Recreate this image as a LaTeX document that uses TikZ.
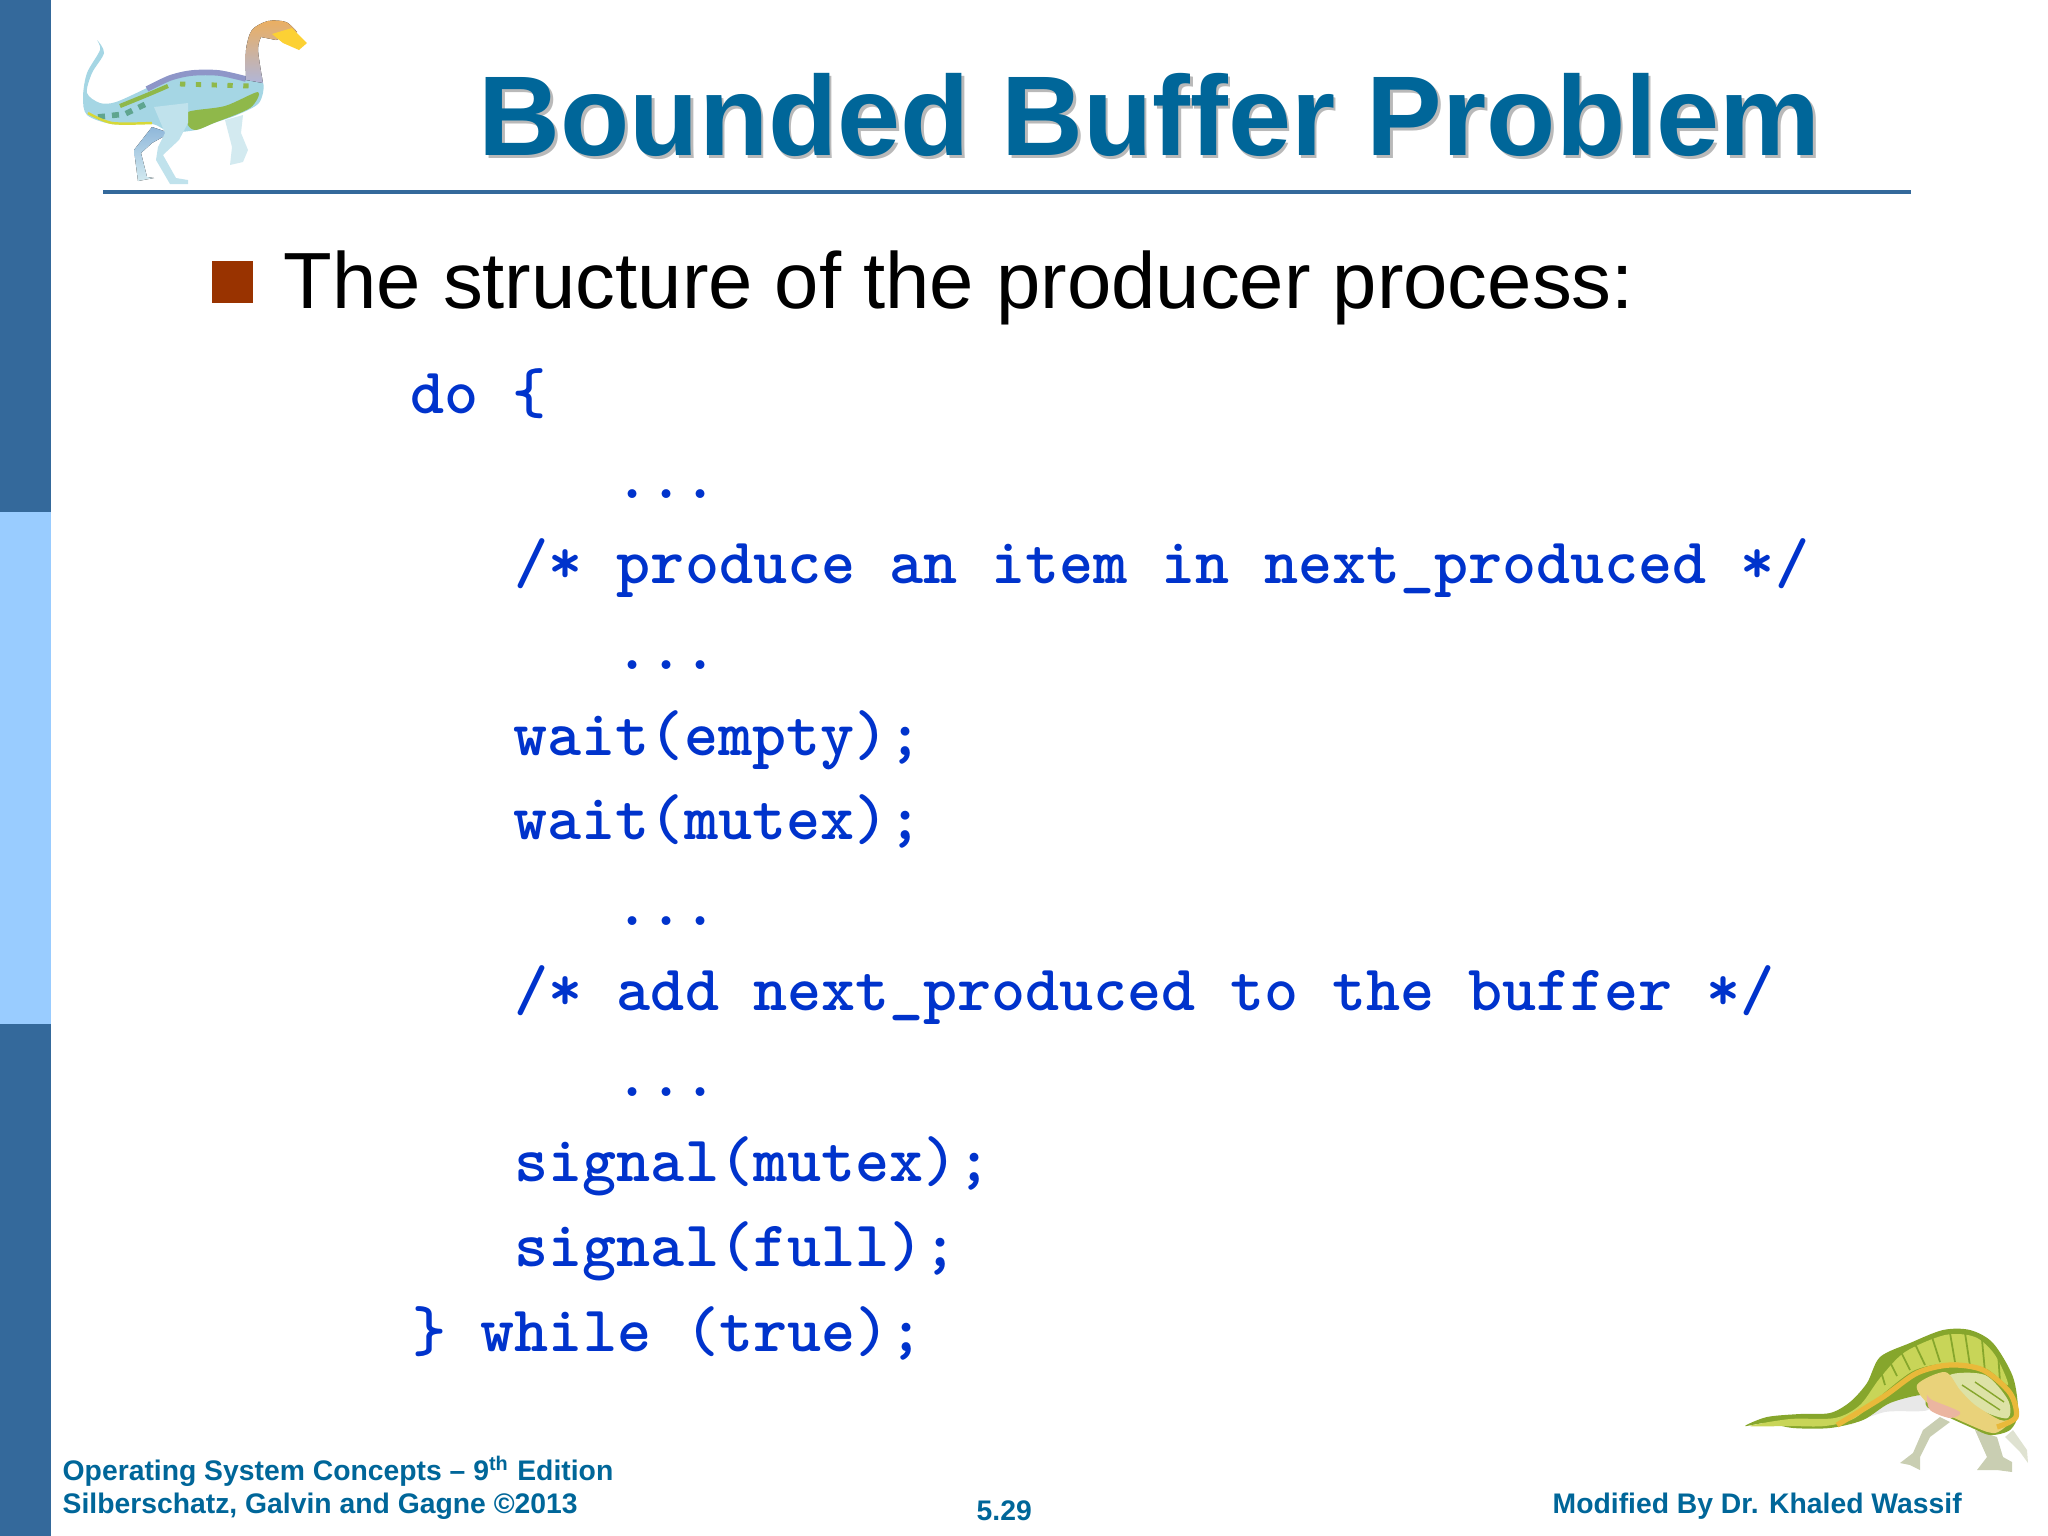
\documentclass[tikz,border=0pt]{standalone}
\usepackage{fontspec}
\setmainfont{Liberation Sans}
\usetikzlibrary{positioning}
\definecolor{barblue}{HTML}{34699B}
\definecolor{barlight}{HTML}{99CCFF}
\definecolor{titleblue}{HTML}{006699}
\definecolor{codeblue}{HTML}{0033CC}
\definecolor{bulletred}{HTML}{993300}
\definecolor{dinoblue}{HTML}{A5D6E4}
\definecolor{dinopale}{HTML}{D3EAF0}
\definecolor{dinofar}{HTML}{8FB7DA}
\definecolor{dinoback}{HTML}{8E96C8}
\definecolor{dinoleaf}{HTML}{8FB84A}
\definecolor{dinoteal}{HTML}{5FA58F}
\definecolor{dinomoss}{HTML}{86A62C}
\definecolor{dinolime}{HTML}{C8D558}
\definecolor{dinoside}{HTML}{DDE2A6}
\definecolor{dinoband}{HTML}{E9B93A}
\definecolor{dinosand}{HTML}{E9D27A}
\definecolor{dinoleg}{HTML}{C9CEB2}
\tikzset{
  titletext/.style={anchor=base west,inner sep=0pt,font=\fontsize{32.25}{36}\bfseries},
  bodytext/.style={anchor=base west,inner sep=0pt,font=\fontsize{22.65}{26}\selectfont},
  codeline/.style={anchor=base west,inner sep=0pt,font=\fontsize{18.45}{20}\ttfamily\bfseries,text=codeblue},
  foottext/.style={anchor=base west,inner sep=0pt,font=\fontsize{8.05}{10}\bfseries,text=titleblue},
}
\begin{document}
\begin{tikzpicture}[x=0.01cm,y=-0.01cm]
\useasboundingbox (0,0) rectangle (2048,1536);

% side bar
\fill[barblue] (0,0) rectangle (51,1536);
\fill[barlight] (0,512) rectangle (51,1024);

% title
\node [titletext,text=gray!55] (titleshadow) at (480.5,158) {Bounded Buffer Problem};
\node [titletext,text=titleblue] (title) at (478,155) {Bounded Buffer Problem};
\draw [barblue,line width=1.4pt] (103,192) -- (1911,192);

\fill[bulletred] (212,261) rectangle (253,303);
\node [bodytext] (heading) at (283,308) {The structure of the producer process:};

% code
\node [codeline] (doline) at (410,413) {do \{};
\node [codeline] (dotsa) at (615,498) {...};
\node [codeline] (produce) at (514,583) {/* produce an item in next\_produced */};
\node [codeline] (dotsb) at (615,669) {...};
\node [codeline] (waitempty) at (513,755) {wait(empty);};
\node [codeline] (waitmutex) at (513,839) {wait(mutex);};
\node [codeline] (dotsc) at (615,925) {...};
\node [codeline] (addbuffer) at (514,1010) {/* add next\_produced to the buffer */};
\node [codeline] (dotsd) at (615,1096) {...};
\node [codeline] (signalmutex) at (514,1181) {signal(mutex);};
\node [codeline] (signalfull) at (514,1266) {signal(full);};
\node [codeline] (whileline) at (412,1351) {\} while (true);};

% footer
\node [foottext] (bookname) at (62,1480) {Operating System Concepts -- 9\textsuperscript{th} Edition};
\node [foottext] (authors) at (62,1513) {Silberschatz, Galvin and Gagne ©2013};
\node [foottext] (pagenum) at (976,1520) {5.29};
\node [foottext] (modified) at (1552,1513) {Modified By Dr. Khaled Wassif};

% blue dinosaur
\fill[top color=dinofar,bottom color=dinopale] (152,127) -- (170,133) -- (152,143) -- (141,153) -- (147,177) -- (154,178) -- (138,181) -- (134,150) -- cycle;
\fill[dinopale] (225,120) -- (243,115) -- (241,133) -- (248,150) -- (243,162) -- (230,165) -- (232,147) -- cycle;
\fill[dinoblue] plot[smooth cycle,tension=0.5] coordinates {(97,40) (104,53) (92,73) (87,93) (100,103) (116,102) (147,88) (170,77) (192,71) (219,71) (246,78) (263,83) (259,103) (237,115) (214,123) (196,130) (170,132) (152,124) (112,124) (87,115) (83,97) (87,73) (100,50)};
\fill[dinoleaf] plot[smooth cycle,tension=0.5] coordinates {(188,112) (225,106) (258,92) (250,108) (214,123) (196,130) (188,125)};
\draw[dinoback,line width=1.6pt] plot[smooth,tension=0.5] coordinates {(147,89) (170,78) (192,73) (219,73) (246,79)};
\draw[dinoleaf,line width=1.2pt] plot[smooth,tension=0.5] coordinates {(120,106) (147,95) (168,86)};
\draw[dinoteal,line width=1.6pt,dash pattern=on 2pt off 2pt] (98,117) -- (125,114) -- (150,102);
\draw[yellow!60!dinoleaf,line width=0.7pt] plot[smooth,tension=0.5] coordinates {(88,113) (112,123) (152,123)};
\draw[dinoleaf,line width=1.4pt,dash pattern=on 1.5pt off 3pt] (180,84) -- (250,86);
\fill[top color=purple!45!yellow!70,middle color=yellow!50!white,bottom color=dinoback!70!white] plot[smooth,tension=0.5] coordinates {(246,80) (246,50) (252,30) (268,21) (286,22) (297,32)} -- (276,40) -- plot[smooth,tension=0.5] coordinates {(261,37) (258,50) (263,83)} -- cycle;
\fill[yellow!60!orange!80] (272,34) -- (292,28) -- (307,43) -- (299,50) -- (283,43) -- cycle;
\fill[dinoblue!70!white] (154,107) -- (188,103) -- (188,123) -- (179,140) -- (163,155) -- (176,178) -- (188,180) -- (188,184) -- (170,184) -- (156,160) -- (158,147) -- (165,133) -- cycle;

% green dinosaur
\fill[dinoleg] (1940,1417) -- (1950,1422) -- (1930,1437) -- (1920,1457) -- (1920,1470) -- (1910,1465) -- (1900,1463) -- (1913,1453) -- (1923,1430) -- cycle;
\fill[dinoleg] (1975,1430) -- (1997,1437) -- (2003,1457) -- (2012,1462) -- (2012,1472) -- (1997,1470) -- (1977,1470) -- (1987,1457) -- cycle;
\fill[dinoleg!60!white] (2005,1437) -- (2013,1430) -- (2027,1450) -- (2028,1463) -- (2020,1452) -- cycle;
\fill[gray!18] plot[smooth,tension=0.5] coordinates {(1890,1403) (1923,1392) (1928,1410) (1885,1412) (1850,1425)} -- cycle;
\fill[dinomoss] plot[smooth cycle,tension=0.5] coordinates {(1745,1426) (1767,1417) (1800,1414) (1830,1413) (1850,1402) (1867,1383) (1880,1357) (1910,1343) (1943,1330) (1970,1330) (1993,1343) (2013,1377) (2018,1413) (2010,1430) (1990,1435) (1970,1427) (1950,1418) (1927,1407) (1923,1395) (1890,1403) (1863,1420) (1830,1428) (1793,1428) (1767,1423)};
\fill[dinolime] plot[smooth cycle,tension=0.5] coordinates {(1750,1426) (1790,1419) (1835,1418) (1860,1405) (1880,1378) (1905,1352) (1945,1335) (1975,1337) (1995,1355) (2008,1385) (1985,1368) (1950,1363) (1915,1370) (1885,1392) (1855,1418) (1825,1426) (1790,1426)};
\draw[dinomoss,line width=0.5pt] (1885,1385) -- (1880,1368) (1897,1376) -- (1888,1358) (1910,1370) -- (1900,1350) (1925,1365) -- (1915,1344) (1940,1362) -- (1932,1337) (1955,1362) -- (1950,1333) (1970,1366) -- (1965,1333) (1985,1372) -- (1982,1340) (2000,1382) -- (1998,1352);
\fill[dinoside] plot[smooth cycle,tension=0.5] coordinates {(1950,1375) (1985,1375) (2008,1400) (2008,1418) (1985,1412) (1960,1395)};
\draw[dinomoss,line width=0.4pt] (1962,1385) -- (2000,1410) (1975,1382) -- (2004,1402);
\fill[dinosand] plot[smooth cycle,tension=0.5] coordinates {(1917,1385) (1945,1372) (1960,1390) (1975,1405) (2000,1420) (2012,1420) (1995,1433) (1970,1425) (1930,1405)};
\draw[dinoband,line width=1.5pt] plot[smooth,tension=0.5] coordinates {(1837,1425) (1883,1397) (1917,1373) (1950,1365) (1983,1370) (2010,1393) (2016,1417) (1997,1427)};
\fill[brown!70!red!45] plot[smooth cycle,tension=0.5] coordinates {(1927,1395) (1932,1400) (1960,1412) (1950,1418) (1930,1410)};

\end{tikzpicture}
\end{document}
